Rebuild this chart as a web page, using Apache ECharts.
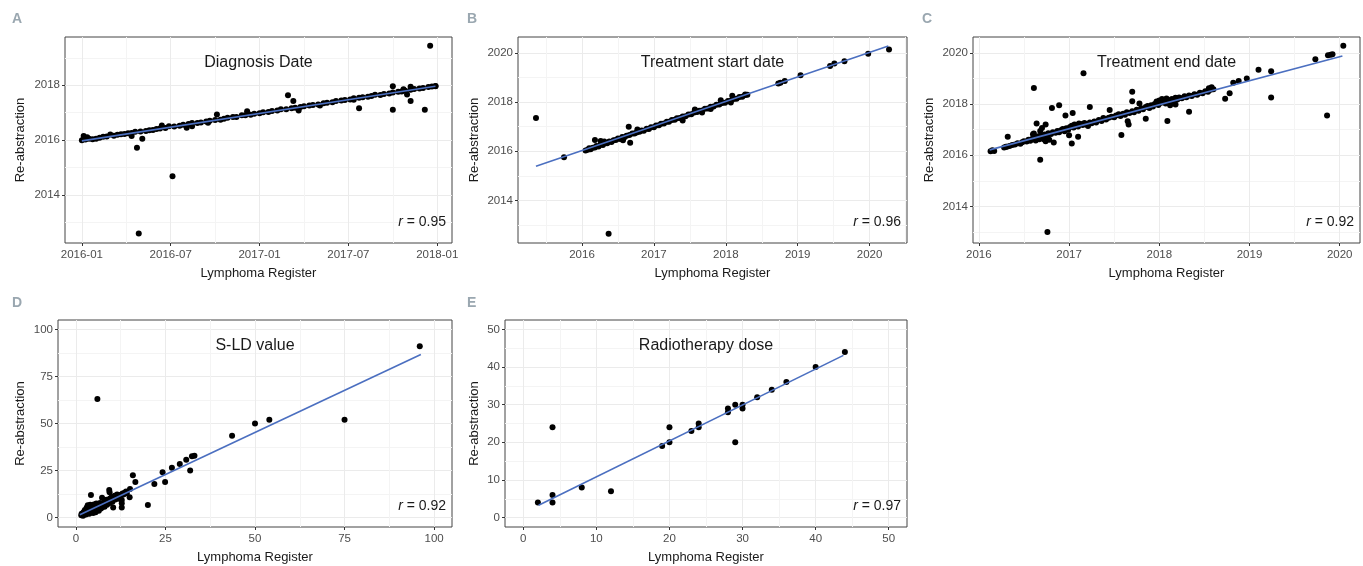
<!DOCTYPE html>
<html><head><meta charset="utf-8">
<script src="https://cdn.jsdelivr.net/npm/echarts@6/dist/echarts.min.js"></script>
<style>html,body{margin:0;padding:0;background:#fff}#c{width:1363px;height:566px}</style>
</head><body><div id="c"></div>
<script>
// ---------- DATA ----------
const diagnosisPoints = [
[2016.00,2015.99],[2016.02,2016.02],[2016.03,2016.10],[2016.04,2016.05],[2016.06,2016.03],[2016.08,2016.05],[2016.10,2016.08],[2016.12,2016.12],[2016.14,2016.13],[2016.16,2016.20],[2016.18,2016.16],[2016.20,2016.19],[2016.22,2016.21],[2016.24,2016.22],[2016.26,2016.25],[2016.28,2016.26],[2016.30,2016.30],[2016.33,2016.31],[2016.36,2016.33],[2016.38,2016.36],[2016.40,2016.37],[2016.42,2016.40],[2016.44,2016.42],[2016.47,2016.44],[2016.49,2016.50],[2016.52,2016.49],[2016.55,2016.52],[2016.57,2016.56],[2016.60,2016.58],[2016.62,2016.62],[2016.65,2016.62],[2016.67,2016.64],[2016.70,2016.68],[2016.72,2016.70],[2016.75,2016.73],[2016.78,2016.74],[2016.80,2016.78],[2016.82,2016.81],[2016.85,2016.84],[2016.87,2016.84],[2016.90,2016.90],[2016.92,2016.90],[2016.95,2016.92],[2016.97,2016.96],[2017.00,2016.98],[2017.02,2017.01],[2017.05,2017.02],[2017.07,2017.06],[2017.10,2017.08],[2017.12,2017.12],[2017.15,2017.12],[2017.18,2017.16],[2017.20,2017.18],[2017.23,2017.20],[2017.25,2017.23],[2017.28,2017.26],[2017.30,2017.28],[2017.33,2017.30],[2017.36,2017.34],[2017.38,2017.36],[2017.41,2017.38],[2017.43,2017.42],[2017.46,2017.44],[2017.48,2017.46],[2017.51,2017.48],[2017.53,2017.52],[2017.56,2017.54],[2017.58,2017.56],[2017.61,2017.58],[2017.63,2017.61],[2017.65,2017.65],[2017.68,2017.64],[2017.70,2017.68],[2017.73,2017.70],[2017.75,2017.73],[2017.78,2017.76],[2017.80,2017.77],[2017.82,2017.80],[2017.85,2017.83],[2017.87,2017.86],[2017.90,2017.88],[2017.92,2017.90],[2017.95,2017.93],[2017.97,2017.95],[2017.99,2017.97],
[2016.01,2016.15],[2016.28,2016.15],[2016.31,2015.72],[2016.32,2012.59],[2016.34,2016.05],[2016.45,2016.53],[2016.51,2014.68],[2016.59,2016.45],[2016.62,2016.50],[2016.71,2016.63],[2016.76,2016.93],[2016.93,2017.05],[2017.16,2017.63],[2017.19,2017.42],[2017.22,2017.08],[2017.34,2017.26],[2017.53,2017.47],[2017.56,2017.16],[2017.75,2017.10],[2017.75,2017.96],[2017.81,2017.85],[2017.83,2017.66],[2017.85,2017.42],[2017.85,2017.94],[2017.93,2017.10],[2017.96,2019.44],[2017.99,2017.96]
];
const diagnosisFit = [[2016.00,2015.97],[2017.99,2017.96]];

const startPoints = [
[2016.05,2016.03],[2016.08,2016.06],[2016.10,2016.12],[2016.12,2016.08],[2016.15,2016.14],[2016.18,2016.15],[2016.20,2016.22],[2016.23,2016.20],[2016.26,2016.27],[2016.29,2016.26],[2016.32,2016.33],[2016.35,2016.33],[2016.38,2016.40],[2016.41,2016.38],[2016.44,2016.45],[2016.47,2016.46],[2016.50,2016.52],[2016.53,2016.50],[2016.56,2016.58],[2016.59,2016.57],[2016.62,2016.63],[2016.66,2016.66],[2016.70,2016.72],[2016.73,2016.72],[2016.76,2016.77],[2016.80,2016.80],[2016.83,2016.85],[2016.86,2016.84],[2016.90,2016.92],[2016.93,2016.91],[2016.96,2016.98],[2017.00,2016.98],[2017.03,2017.05],[2017.07,2017.06],[2017.10,2017.12],[2017.14,2017.13],[2017.18,2017.20],[2017.21,2017.20],[2017.25,2017.27],[2017.29,2017.28],[2017.32,2017.34],[2017.36,2017.35],[2017.40,2017.42],[2017.44,2017.43],[2017.48,2017.50],[2017.52,2017.51],[2017.56,2017.58],[2017.60,2017.60],[2017.63,2017.65],[2017.67,2017.66],[2017.71,2017.73],[2017.75,2017.74],[2017.79,2017.81],[2017.83,2017.82],[2017.87,2017.89],[2017.91,2017.90],[2017.95,2017.97],[2017.99,2017.98],[2018.03,2018.05],[2018.07,2018.06],[2018.11,2018.13],[2018.15,2018.14],[2018.19,2018.21],[2018.23,2018.22],[2018.27,2018.29],[2018.30,2018.30],
[2015.36,2017.36],[2015.75,2015.76],[2016.37,2012.65],[2016.18,2016.46],[2016.26,2016.42],[2016.31,2016.40],[2016.57,2016.45],[2016.65,2017.00],[2016.67,2016.35],[2016.77,2016.89],[2017.40,2017.25],[2017.57,2017.70],[2017.67,2017.58],[2017.79,2017.72],[2017.93,2018.08],[2018.07,2017.99],[2018.09,2018.26],[2018.27,2018.31],[2018.73,2018.76],[2018.76,2018.79],[2018.82,2018.86],[2019.04,2019.09],[2019.45,2019.47],[2019.51,2019.57],[2019.65,2019.66],[2019.98,2019.97],[2020.27,2020.14]
];
const startFit = [[2015.36,2015.39],[2020.26,2020.28]];

const endPoints = [
[2016.13,2016.16],[2016.15,2016.19],[2016.17,2016.17],[2016.28,2016.30],[2016.31,2016.33],[2016.34,2016.36],[2016.37,2016.40],[2016.40,2016.42],[2016.43,2016.47],[2016.46,2016.45],[2016.48,2016.51],[2016.50,2016.55],[2016.53,2016.54],[2016.55,2016.60],[2016.57,2016.57],[2016.59,2016.63],[2016.60,2016.82],[2016.62,2016.66],[2016.63,2016.58],[2016.64,2016.70],[2016.66,2016.74],[2016.67,2016.62],[2016.68,2016.95],[2016.69,2016.78],[2016.71,2016.68],[2016.72,2016.62],[2016.73,2016.81],[2016.74,2016.55],[2016.76,2016.70],[2016.77,2016.86],[2016.78,2016.60],[2016.80,2016.83],[2016.82,2016.90],[2016.85,2016.88],[2016.87,2016.95],[2016.89,2016.90],[2016.91,2016.98],[2016.93,2017.02],[2016.95,2016.94],[2016.97,2017.05],[2016.99,2017.00],[2017.00,2016.78],[2017.01,2017.10],[2017.03,2017.15],[2017.05,2017.08],[2017.06,2017.20],[2017.08,2017.17],[2017.10,2017.12],[2017.11,2017.24],[2017.13,2017.22],[2017.15,2017.18],[2017.17,2017.26],[2017.19,2017.20],[2017.21,2017.14],[2017.23,2017.28],[2017.25,2017.25],[2017.28,2017.32],[2017.30,2017.28],[2017.33,2017.38],[2017.36,2017.34],[2017.38,2017.45],[2017.41,2017.40],[2017.44,2017.46],[2017.47,2017.50],[2017.50,2017.48],[2017.52,2017.55],[2017.55,2017.60],[2017.57,2017.53],[2017.60,2017.62],[2017.62,2017.58],[2017.64,2017.68],[2017.67,2017.65],[2017.70,2017.72],[2017.72,2017.68],[2017.75,2017.78],[2017.77,2017.74],[2017.80,2017.84],[2017.82,2017.80],[2017.85,2017.88],[2017.87,2017.92],[2017.89,2017.85],[2017.91,2017.95],[2017.93,2017.90],[2017.95,2018.00],[2017.97,2018.10],[2017.99,2017.96],[2018.00,2018.14],[2018.02,2018.05],[2018.03,2018.20],[2018.05,2018.12],[2018.07,2018.02],[2018.08,2018.22],[2018.10,2018.16],[2018.12,2018.08],[2018.14,2018.20],[2018.16,2018.12],[2018.18,2018.25],[2018.20,2018.18],[2018.22,2018.26],[2018.25,2018.23],[2018.28,2018.30],[2018.30,2018.27],[2018.33,2018.33],[2018.36,2018.31],[2018.39,2018.38],[2018.42,2018.36],[2018.45,2018.44],[2018.48,2018.42],[2018.51,2018.50],[2018.54,2018.48],[2018.57,2018.56],[2018.60,2018.58],
[2020.04,2020.28],[2019.86,2017.55],[2019.73,2019.75],[2019.87,2019.91],[2019.90,2019.93],[2019.92,2019.95],[2019.24,2018.26],[2019.24,2019.28],[2019.10,2019.34],[2018.97,2019.00],[2018.88,2018.90],[2018.82,2018.83],[2018.78,2018.42],[2018.73,2018.21],[2018.33,2017.70],[2018.09,2017.34],[2017.16,2019.20],[2016.61,2018.63],[2016.76,2013.00],[2016.68,2015.82],[2016.32,2016.72],[2016.81,2017.85],[2016.89,2017.95],[2016.96,2017.55],[2017.04,2017.65],[2017.23,2017.88],[2017.70,2018.48],[2017.70,2018.11],[2017.78,2018.02],[2017.45,2017.77],[2017.58,2016.79],[2017.66,2017.20],[2017.65,2017.33],[2017.85,2017.43],[2017.03,2016.46],[2017.10,2016.72],[2016.64,2017.24],[2016.74,2017.20],[2016.70,2017.06],[2016.83,2016.50],[2016.61,2016.85],[2016.30,2016.33],[2018.12,2017.95],[2018.18,2017.98],[2018.55,2018.62],[2018.58,2018.66]
];
const endFit = [[2016.12,2016.21],[2020.03,2019.88]];

const sldPoints = [
[1.5,1.2],[1.6,2.0],[1.8,1.5],[2.0,2.5],[2.0,1.0],[2.2,3.0],[2.3,1.8],[2.5,2.2],[2.5,4.0],[2.7,2.8],[2.8,1.6],[3.0,3.3],[3.0,5.2],[3.2,2.5],[3.3,6.5],[3.5,3.0],[3.5,4.2],[3.7,2.1],[3.8,5.5],[4.0,3.6],[4.0,6.8],[4.2,2.8],[4.4,4.8],[4.5,3.5],[4.7,5.8],[4.8,2.5],[5.0,4.4],[5.0,7.0],[5.2,3.8],[5.3,6.0],[5.5,5.0],[5.5,2.9],[5.7,7.5],[6.0,5.4],[6.0,4.0],[6.2,6.5],[6.4,3.6],[6.5,5.8],[6.7,7.8],[7.0,6.3],[7.0,4.8],[7.3,10.5],[7.3,5.5],[7.5,7.0],[7.8,6.6],[8.0,8.5],[8.0,5.8],[8.3,7.5],[8.5,9.5],[8.7,6.8],[9.0,8.8],[9.3,14.7],[9.4,13.5],[9.5,10.2],[9.5,7.8],[9.8,9.3],[10.0,11.0],[10.2,8.4],[10.4,5.3],[10.5,10.2],[10.8,11.6],[11.0,9.6],[11.3,10.8],[11.5,12.3],[11.8,11.0],[12.0,10.0],[12.3,12.0],[12.5,11.5],[12.8,5.3],[12.8,7.6],[12.8,9.3],[13.0,12.8],[13.3,12.3],[13.6,13.2],[14.0,13.8],[14.2,13.0],
[4.2,12.0],[15.0,10.8],[15.1,15.2],[15.9,22.5],[16.6,18.9],[20.1,6.7],[21.9,17.9],[24.2,24.1],[24.9,18.9],[26.8,26.5],[29.0,28.5],[30.8,30.8],[31.9,25.0],[32.4,32.6],[33.1,32.9],[43.6,43.5],[50.0,50.0],[54.0,52.0],[75.0,52.0],[96.0,91.0],[6.0,63.0]
];
const sldFit = [[1.1,1.5],[96.3,86.7]];

const dosePoints = [
[2,4],[4,6],[4,4],[4,24],[8,8],[12,7],[19,19],[20,20],[20,24],[23,23],[24,25],[24,24],[28,28],[28,29],[29,30],[29,20],[30,30],[30,29],[32,32],[34,34],[36,36],[40,40],[44,44]
];
const doseFit = [[2.1,3.3],[43.8,43.1]];

const dateTicksX = [2016, 2016.5, 2017, 2017.5, 2018];
const yearTicksY = [2014, 2016, 2018, 2020];
const yearTicksX = [2016, 2017, 2018, 2019, 2020];
const sldTicks = [0, 25, 50, 75, 100];
const doseTicks = [0, 10, 20, 30, 40, 50];
const panelTitles = ['Diagnosis Date', 'Treatment start date', 'Treatment end date', 'S-LD value', 'Radiotherapy dose'];
const panelLetters = ['A', 'B', 'C', 'D', 'E'];
const rValues = ['0.95', '0.96', '0.92', '0.92', '0.97'];

// ---------- LAYOUT ----------
const FONT = 'Liberation Sans, Arial, Helvetica, sans-serif';
const grids = [
  {left: 65, top: 37, width: 387, height: 206},
  {left: 518, top: 37, width: 389, height: 206},
  {left: 973, top: 37, width: 387, height: 206},
  {left: 58, top: 320, width: 394, height: 207},
  {left: 505, top: 320, width: 402, height: 207}
];
const xRanges = [[2015.905, 2018.083], [2015.11, 2020.52], [2015.935, 2020.225], [-5, 105], [-2.5, 52.5]];
const yRanges = [[2012.245, 2019.757], [2012.27, 2020.65], [2012.57, 2020.62], [-5, 105], [-2.5, 52.5]];
const xSteps = [0.5, 1, 1, 25, 10];
const ySteps = [2, 2, 2, 25, 10];
const xTickSets = [dateTicksX, yearTicksX, yearTicksX, sldTicks, doseTicks];
const yTickSets = [yearTicksY, yearTicksY, yearTicksY, sldTicks, doseTicks];
const yNameGaps = [38, 37, 37, 31, 24];
const letterPos = [[12, 19], [467, 19], [922, 19], [12, 303], [467, 303]];
const pointSets = [diagnosisPoints, startPoints, endPoints, sldPoints, dosePoints];
const fitSets = [diagnosisFit, startFit, endFit, sldFit, doseFit];

function dateFmt(v) {
  const y = Math.floor(v + 1e-6);
  const m = Math.round((v - y) * 12) + 1;
  return y + '-' + String(m).padStart(2, '0');
}

const xAxes = [], yAxes = [], series = [], graphics = [];
grids.forEach((g, i) => {
  const inRange = (arr, r) => arr.filter(v => v >= r[0] && v <= r[1]);
  const xt = inRange(xTickSets[i], xRanges[i]);
  const yt = inRange(yTickSets[i], yRanges[i]);
  const common = {
    type: 'value', gridIndex: i,
    axisLine: {show: false, onZero: false},
    splitLine: {show: true, lineStyle: {color: '#EBEBEB', width: 1}},
    minorTick: {show: false, splitNumber: 2},
    minorSplitLine: {show: true, lineStyle: {color: '#F4F4F4', width: 1}},
    nameLocation: 'middle',
    nameTextStyle: {fontFamily: FONT, fontSize: 13, color: '#1A1A1A'}
  };
  xAxes.push(Object.assign({}, common, {
    position: 'bottom',
    min: xRanges[i][0], max: xRanges[i][1],
    minInterval: xSteps[i], maxInterval: xSteps[i],
    axisTick: {show: true, length: 3, lineStyle: {color: '#333'}, customValues: xt},
    axisLabel: {customValues: xt, margin: 6, fontFamily: FONT, fontSize: 11.5, color: '#4D4D4D',
      formatter: i === 0 ? dateFmt : (v => String(Math.round(v)))},
    name: 'Lymphoma Register', nameGap: 24
  }));
  yAxes.push(Object.assign({}, common, {
    position: 'left',
    min: yRanges[i][0], max: yRanges[i][1],
    minInterval: ySteps[i], maxInterval: ySteps[i],
    axisTick: {show: true, length: 3, lineStyle: {color: '#333'}, customValues: yt},
    axisLabel: {customValues: yt, margin: 5, fontFamily: FONT, fontSize: 11.5, color: '#4D4D4D',
      formatter: v => String(Math.round(v))},
    name: 'Re-abstraction', nameGap: yNameGaps[i]
  }));
  series.push({
    type: 'scatter', xAxisIndex: i, yAxisIndex: i, data: pointSets[i],
    symbol: 'circle', symbolSize: 6, itemStyle: {color: '#000', opacity: 1}, silent: true, z: 2
  });
  series.push({
    type: 'line', xAxisIndex: i, yAxisIndex: i, data: fitSets[i],
    showSymbol: false, lineStyle: {color: '#4B6FC0', width: 1.6, opacity: 1}, silent: true, z: 3
  });
  graphics.push({type: 'text', z: 100, x: letterPos[i][0], y: letterPos[i][1],
    style: {text: panelLetters[i], fontFamily: FONT, fontSize: 14, fontWeight: 'bold', fill: '#9AA7B0', verticalAlign: 'middle'}});
  graphics.push({type: 'text', z: 100, x: g.left + g.width / 2, y: g.top + 26,
    style: {text: panelTitles[i], fontFamily: FONT, fontSize: 16, fill: '#1A1A1A', align: 'center', verticalAlign: 'middle'}});
  graphics.push({type: 'text', z: 100, x: g.left + g.width - 6, y: g.top + g.height - 21,
    style: {text: '{i|r} = ' + rValues[i], fontFamily: FONT, fontSize: 14, fill: '#1A1A1A', align: 'right', verticalAlign: 'middle',
      rich: {i: {fontStyle: 'italic', fontFamily: FONT, fontSize: 14, fill: '#1A1A1A'}}}});
});

const chart = echarts.init(document.getElementById('c'), null, {renderer: 'canvas'});
chart.setOption({
  animation: false,
  backgroundColor: '#ffffff',
  grid: grids.map(g => Object.assign({show: true, borderColor: '#444', borderWidth: 1, backgroundColor: 'transparent', containLabel: false}, g)),
  xAxis: xAxes,
  yAxis: yAxes,
  series: series,
  graphic: {elements: graphics}
});
</script>
</body></html>
